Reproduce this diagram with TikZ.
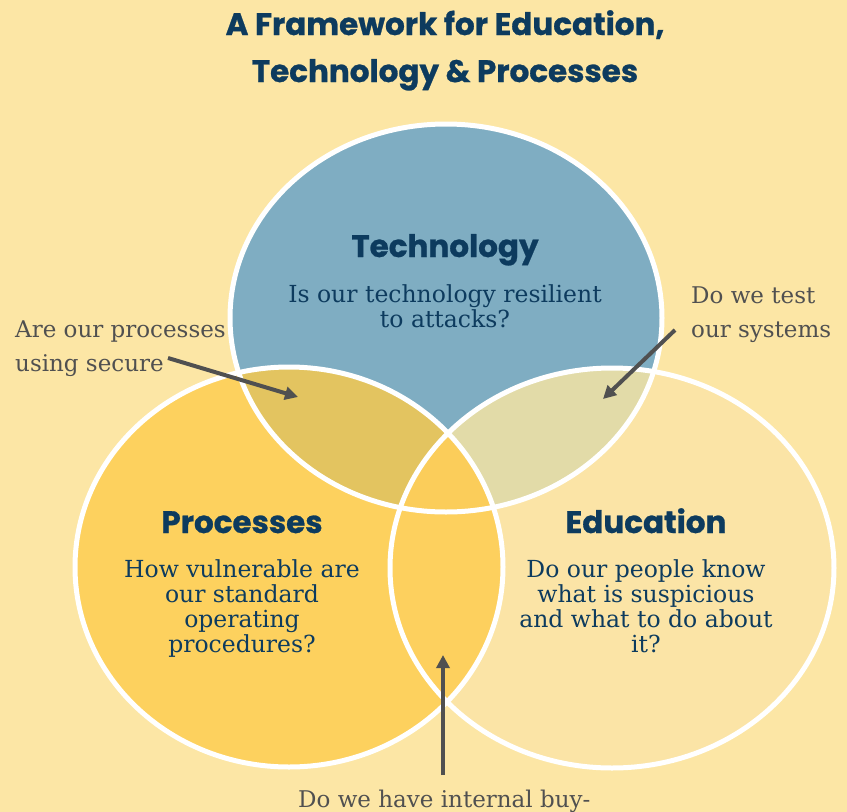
\documentclass[tikz,border=0pt]{standalone}
\usepackage{fontspec}
\setmainfont{DejaVu Serif}
\newfontfamily\headfont{Poppins}[BoldFeatures={FakeBold=0.8}]
\usetikzlibrary{arrows.meta}

\definecolor{bg}{HTML}{FCE6A5}
\definecolor{techfill}{HTML}{7FADC2}
\definecolor{procfill}{HTML}{FDD15E}
\definecolor{edufill}{HTML}{FBE4A6}
\definecolor{techproc}{HTML}{E3C460}
\definecolor{techedu}{HTML}{E2DBA8}
\definecolor{procedu}{HTML}{FDD05E}
\definecolor{alltri}{HTML}{FBCD5A}
\definecolor{navy}{HTML}{0D3B5E}
\definecolor{note}{HTML}{505050}

% multi-line nodes are placed by the baseline of their last line
\tikzset{
  heading/.style={anchor=base, text=navy, font=\headfont\bfseries\fontsize{31}{31}\selectfont, inner sep=0pt},
  question/.style={anchor=base, align=center, text=navy, font=\fontsize{23.5}{25}\selectfont, inner sep=0pt},
  remark/.style={anchor=base west, align=left, text=note, font=\fontsize{23}{34}\selectfont, inner sep=0pt},
  pointer/.style={draw=note, line width=4pt, -{Triangle[length=13pt,width=13pt]}},
  rim/.style={draw=white, line width=5pt},
}

\def\techpath{(446,318) ellipse [x radius=216pt, y radius=194pt]}
\def\procpath{(289,567) ellipse [x radius=214pt, y radius=200pt]}
\def\edupath{(612,568) ellipse [x radius=222pt, y radius=200pt]}

\begin{document}
\begin{tikzpicture}[x=1pt,y=-1pt]
\useasboundingbox (0,0) rectangle (847,812);
\fill[bg] (0,0) rectangle (847,812);

% the three sets
\fill[techfill] \techpath;
\fill[procfill] \procpath;
\fill[edufill] \edupath;

% pairwise overlaps
\begin{scope}
  \clip \techpath;
  \fill[techproc] \procpath;
  \fill[techedu] \edupath;
\end{scope}
\begin{scope}
  \clip \procpath;
  \fill[procedu] \edupath;
  \clip \edupath;
  \fill[alltri] \techpath;
\end{scope}

% white outlines
\draw[rim] \techpath;
\draw[rim] \procpath;
\draw[rim] \edupath;

% title
\node[heading] (title1) at (445,35) {A Framework for Education,};
\node[heading] (title2) at (445,82) {Technology \& Processes};

% set labels
\node[heading] (tech) at (445,257) {Technology};
\node[question] (techq) at (445,327) {Is our technology resilient\\to attacks?};

\node[heading] (proc) at (242,533) {Processes};
\node[question] (procq) at (242,652) {How vulnerable are\\our standard\\operating\\procedures?};

\node[heading] (edu) at (646,533) {Education};
\node[question] (eduq) at (646,652) {Do our people know\\what is suspicious\\and what to do about\\it?};

% side remarks with pointers
\node[remark] (r1) at (15,371) {Are our processes\\using secure};
\node[remark] (r2) at (691,337) {Do we test\\our systems};
\node[remark] (r3) at (298,807) {Do we have internal buy-};

\coordinate (r1s) at (168,358);
\coordinate (r1t) at (298,397);
\coordinate (r2s) at (675,330);
\coordinate (r2t) at (603,399);
\coordinate (r3s) at (443,775);
\coordinate (r3t) at (443,655);

\draw[pointer] (r1s) -- (r1t);
\draw[pointer] (r2s) -- (r2t);
\draw[pointer] (r3s) -- (r3t);
\end{tikzpicture}
\end{document}
